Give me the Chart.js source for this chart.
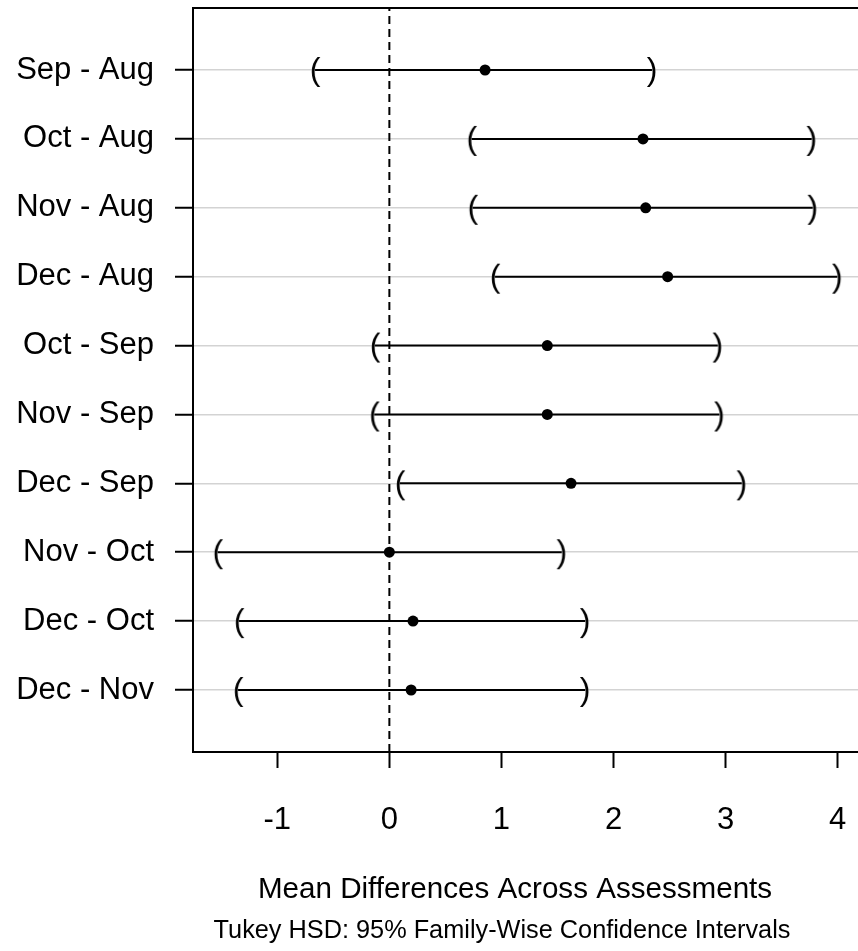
<!DOCTYPE html>
<html lang="en">
<head>
  <meta charset="UTF-8">
  <title>Tukey HSD</title>
  <script src="https://cdn.jsdelivr.net/npm/chart.js"></script>
  <style>
    body { margin: 0; overflow: hidden; background: #fff; }
  </style>
</head>
<body>
  <canvas id="tukey" width="870" height="951"></canvas>

  <script>
    // comparisons, top to bottom
    const comparisons = ['Sep - Aug', 'Oct - Aug', 'Nov - Aug', 'Dec - Aug', 'Oct - Sep',
                         'Nov - Sep', 'Dec - Sep', 'Nov - Oct', 'Dec - Oct', 'Dec - Nov'];
    const diffs = [0.854, 2.263, 2.287, 2.483, 1.409, 1.409, 1.621, 0.0, 0.211, 0.194];
    const lower = [-0.663, 0.735, 0.744, 0.943, -0.128, -0.134, 0.095, -1.531, -1.341, -1.350];
    const upper = [2.343, 3.768, 3.777, 3.996, 2.930, 2.944, 3.144, 1.538, 1.746, 1.746];
    const xTicks = [-1, 0, 1, 2, 3, 4];

    const xTitle = 'Mean Differences Across Assessments';
    const subTitle = 'Tukey HSD: 95% Family-Wise Confidence Intervals';

    const FONT = '"Liberation Sans", Arial, sans-serif';
    const n = comparisons.length;
    const rowY = i => n - i;

    // R style: ylim c(0.5, n + 0.5) widened by 4%
    const yMin = 0.5 - 0.04 * n, yMax = n + 0.5 + 0.04 * n;
    const lo = Math.min(...lower), hi = Math.max(...upper);
    const xMin = lo - 0.04 * (hi - lo), xMax = hi + 0.04 * (hi - lo);

    function glyph(ch) {
      const c = document.createElement('canvas');
      c.width = 24; c.height = 40;
      const g = c.getContext('2d');
      g.fillStyle = '#000';
      g.font = '32px ' + FONT;
      g.textAlign = 'center';
      g.textBaseline = 'middle';
      g.fillText(ch, 12, 21);
      return c;
    }

    const datasets = [];
    datasets.push({
      type: 'scatter',
      data: diffs.map((d, i) => ({ x: d, y: rowY(i) })),
      pointRadius: 5.5,
      pointBackgroundColor: '#000',
      pointBorderWidth: 0
    });
    datasets.push({
      type: 'scatter',
      data: lower.map((d, i) => ({ x: d, y: rowY(i) })),
      pointStyle: glyph('('),
      pointRadius: 10
    });
    datasets.push({
      type: 'scatter',
      data: upper.map((d, i) => ({ x: d, y: rowY(i) })),
      pointStyle: glyph(')'),
      pointRadius: 10
    });
    comparisons.forEach((c, i) => {
      datasets.push({
        type: 'line',
        data: [{ x: lower[i], y: rowY(i) }, { x: upper[i], y: rowY(i) }],
        borderColor: '#000',
        borderWidth: 2,
        pointRadius: 0
      });
    });
    datasets.push({
      type: 'line',
      data: [{ x: 0, y: yMin }, { x: 0, y: yMax }],
      borderColor: '#000',
      borderWidth: 2,
      borderDash: [8, 5],
      pointRadius: 0
    });

    const frame = {
      id: 'frame',
      afterDraw(chart) {
        const { ctx, chartArea: a } = chart;
        ctx.save();
        ctx.strokeStyle = '#000';
        ctx.lineWidth = 2;
        ctx.strokeRect(a.left, a.top, a.right - a.left, a.bottom - a.top);
        ctx.fillStyle = '#000';
        ctx.textAlign = 'center';
        ctx.textBaseline = 'middle';
        ctx.font = '29.6px ' + FONT;
        ctx.fillText(xTitle, 515, 890);
        ctx.font = '25.3px ' + FONT;
        ctx.fillText(subTitle, 502, 931);
        ctx.restore();
      }
    };

    new Chart(document.getElementById('tukey'), {
      type: 'scatter',
      data: { datasets },
      options: {
        responsive: false,
        animation: false,
        events: [],
        layout: { autoPadding: false, padding: { top: 8, right: 8, left: 0, bottom: 0 } },
        plugins: { legend: { display: false }, tooltip: { enabled: false } },
        scales: {
          x: {
            type: 'linear',
            min: xMin,
            max: xMax,
            afterBuildTicks: s => { s.ticks = xTicks.map(v => ({ value: v })); },
            afterFit: s => { s.height = 199; s.paddingLeft = 0; s.paddingRight = 0; },
            border: { display: false },
            grid: { drawOnChartArea: false, tickLength: 16, tickColor: '#000', tickWidth: 2 },
            ticks: { color: '#000', font: { family: FONT, size: 31 }, padding: 34, maxRotation: 0 }
          },
          y: {
            type: 'linear',
            min: yMin,
            max: yMax,
            afterBuildTicks: s => { s.ticks = comparisons.map((c, i) => ({ value: rowY(i) })); },
            afterFit: s => { s.width = 193; s.paddingTop = 0; s.paddingBottom = 0; },
            border: { display: false },
            grid: { color: '#d3d3d3', lineWidth: 1.5, tickLength: 18, tickColor: '#000', tickWidth: 2 },
            ticks: {
              color: '#000',
              font: { family: FONT, size: 31 },
              padding: 21,
              callback: v => comparisons[n - v]
            }
          }
        }
      },
      plugins: [frame]
    });
  </script>
</body>
</html>
